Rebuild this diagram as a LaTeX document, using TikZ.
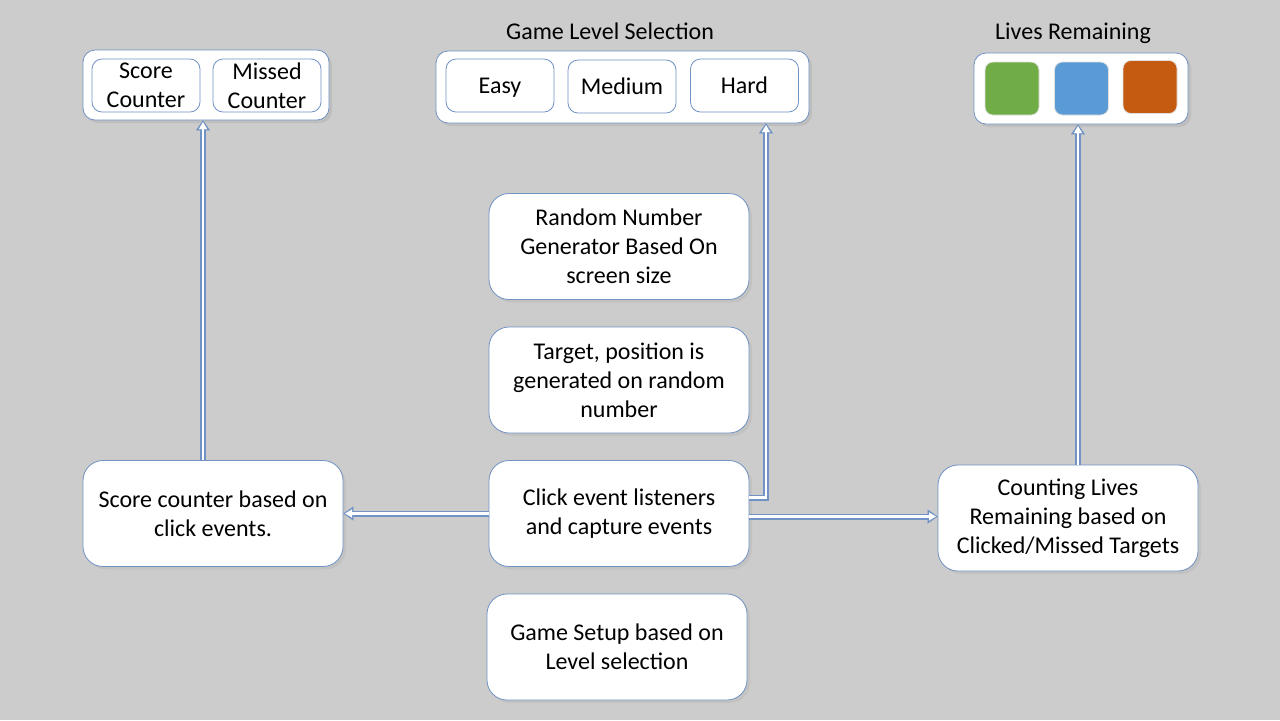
\documentclass[tikz,border=0pt]{standalone}
\usepackage{fontspec}
\setmainfont{Carlito}
\usetikzlibrary{shadows}
\usetikzlibrary{positioning}
\usetikzlibrary{arrows.meta,shapes}
\usetikzlibrary{calc}
\definecolor{bggray}{RGB}{204,204,204}
\definecolor{boxline}{RGB}{112,146,196}
\definecolor{livegreen}{RGB}{112,173,71}
\definecolor{liveblue}{RGB}{91,155,213}
\definecolor{liveorange}{RGB}{197,90,17}
\newcommand{\boxfont}{\fontsize{12}{14.5}\selectfont}
\newcommand{\optlabel}[1]{\raisebox{-1.5pt}[6pt][1.5pt]{#1}}
\tikzstyle{stepbox}=[rectangle,rounded corners=10pt,draw=boxline,fill=white,minimum width=130pt,minimum height=53pt,inner sep=2pt,align=center,font=\boxfont,drop shadow={opacity=0.12,shadow xshift=1.5pt,shadow yshift=-1.5pt}]
\tikzstyle{panel}=[rectangle,rounded corners=6pt,draw=boxline,fill=white,inner sep=0pt,drop shadow={opacity=0.18,shadow xshift=1.5pt,shadow yshift=-1.5pt}]
\tikzstyle{option}=[rectangle,rounded corners=5pt,draw=boxline,fill=white,minimum width=54pt,minimum height=26.5pt,inner sep=1pt,align=center,font=\boxfont]
\tikzstyle{life}=[rectangle,rounded corners=4pt,draw=black!12,minimum width=27pt,minimum height=26.5pt,inner sep=0pt]
\tikzstyle{title}=[font=\boxfont]
\tikzstyle{link}=[draw=boxline,line width=3pt,-{Triangle[length=5pt,width=7pt,line width=0.01pt]},postaction={draw=white,line width=1.3pt,-{Triangle[length=3.4pt,width=4pt,line width=0.01pt]},shorten >=0.9pt}]

\begin{document}
\begin{tikzpicture}[x=0.5pt,y=-0.5pt]
  \fill[bggray] (0,0) rectangle (1280,720);
  \useasboundingbox (0,0) rectangle (1280,720);

  % top panels
  \node[title] at (610,31) {Game Level Selection};
  \node[title] at (1073,33) {Lives Remaining};
  \node[panel,minimum width=123pt,minimum height=35pt] (counters) at (206,85) {};
  \node[panel,minimum width=186.5pt,minimum height=36pt] (levels) at (622.5,87) {};
  \node[panel,minimum width=107pt,minimum height=35.5pt] (lives) at (1081,88.5) {};

  \foreach \pos/\name/\txt in {{(146,85.5)/score/Score\\Counter}, {(267,85.5)/missed/Missed\\Counter}, {(500,85.5)/easy/\optlabel{Easy}}, {(622,86.5)/medium/\optlabel{Medium}}, {(744.5,85.5)/hard/\optlabel{Hard}}}
    \node[option] (\name) at \pos {\txt};

  \foreach \pos/\name/\col in {{(1012,88.5)/green/livegreen}, {(1081.5,88.5)/blue/liveblue}, {(1150,87)/orange/liveorange}}
    \node[life,fill=\col] (\name) at \pos {};

  % main boxes
  \node[stepbox] (random) at (619,246.5) {Random Number\\Generator Based On\\screen size};
  \node[stepbox] (target) at (619,380) {Target, position is\\generated on random\\number};
  \node[stepbox] (click) at (619,513.5) {Click event listeners\\and capture events};
  \node[stepbox] (setup) at (617,647) {Game Setup based on\\Level selection};
  \node[stepbox] (scorebox) at (213,513.5) {Score counter based on\\click events.};
  \node[stepbox] (counting) at (1068,518) {Counting Lives\\Remaining based on\\Clicked/Missed Targets};

  % connectors
  \draw[link] (click.west) -- (scorebox.east);
  \draw[link] ([yshift=-1.5pt]click.east) -- ([yshift=-1.5pt]click.east -| counting.west);
  \draw[link] ([yshift=8pt]click.east) -| ([xshift=10.75pt]hard.south |- levels.south);
  \draw[link] ([xshift=-5pt]scorebox.north) -- ([xshift=-5pt]scorebox.north |- counters.south);
  \draw[link] ([xshift=5pt]counting.north) -- ([xshift=5pt]counting.north |- lives.south);
\end{tikzpicture}
\end{document}
